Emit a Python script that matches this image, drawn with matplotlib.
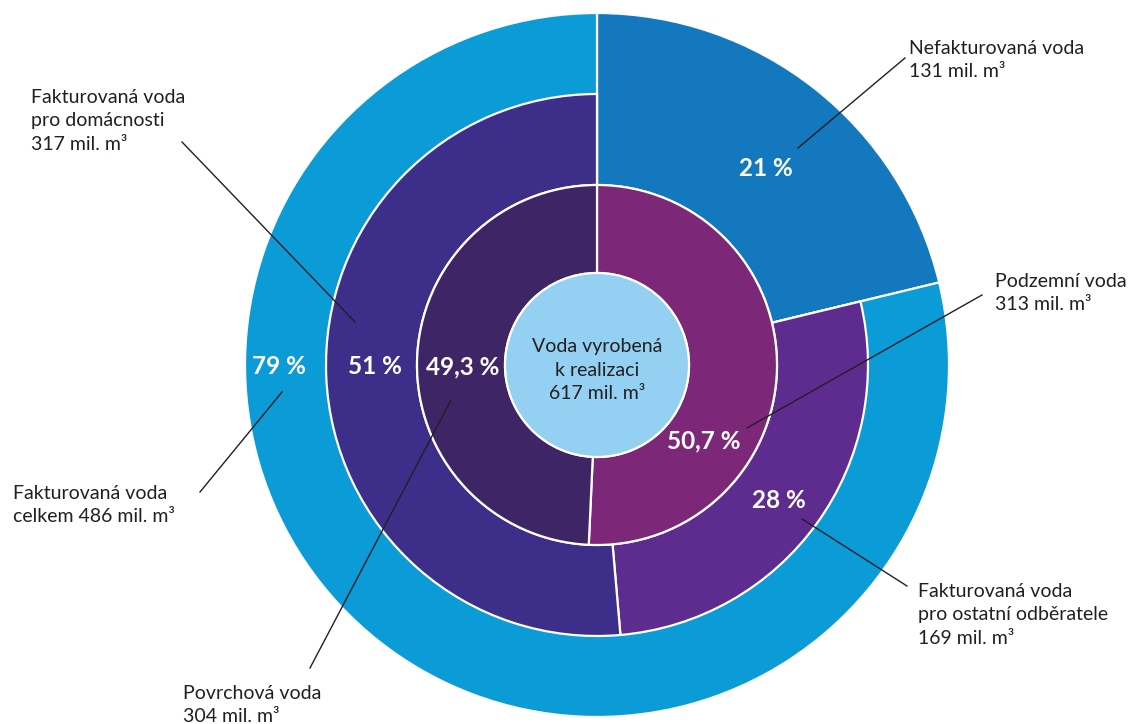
import matplotlib
matplotlib.use("Agg")
import matplotlib.pyplot as plt

# ---- data ----
total_label = "Voda vyrobená\nk realizaci\n617 mil. m³"
inner_names = ["Podzemní voda", "Povrchová voda"]
inner_values = [313, 304]
inner_pct = ["50,7 %", "49,3 %"]

middle_names = ["Nefakturovaná voda", "Fakturovaná voda pro ostatní odběratele",
                "Fakturovaná voda pro domácnosti"]
middle_values = [131, 169, 317]
middle_pct = ["21 %", "28 %", "51 %"]

outer_names = ["Nefakturovaná voda", "Fakturovaná voda celkem"]
outer_values = [131, 486]
outer_pct = ["21 %", "79 %"]

# ---- styles ----
C_OUT_LIGHT = "#0b9bd7"
C_DARK_BLUE = "#1378bd"
C_28 = "#5e2c8f"
C_51 = "#3d2e8a"
C_POD = "#7c2778"
C_POV = "#3e2566"
C_CENTER = "#94d0f1"
TXT = "#231f20"

W, H = 1130, 724
fig = plt.figure(figsize=(W / 100, H / 100), dpi=100)
ax = fig.add_axes([0, 0, 1, 1])

cx, cy = 597, H - 365
R_out, R_mid, R_in, R_c = 352, 271, 180, 92
lw = 1.6

def py(y):
    return H - y

FONT = ["Lato", "DejaVu Sans"]
plt.rcParams["font.family"] = FONT

# outer ring (dark blue wedge spans from inner-ring edge to outer edge)
w_out, _ = ax.pie(outer_values, radius=R_out, center=(cx, cy), startangle=90,
                  counterclock=False, colors=[C_DARK_BLUE, C_OUT_LIGHT],
                  wedgeprops=dict(width=R_out - R_in, edgecolor="white", linewidth=lw))
# middle ring
w_mid, _ = ax.pie(middle_values, radius=R_mid, center=(cx, cy), startangle=90,
                  counterclock=False, colors=["none", C_28, C_51],
                  wedgeprops=dict(width=R_mid - R_in, edgecolor="white", linewidth=lw))
w_mid[0].set_visible(False)
# inner ring
w_in, _ = ax.pie(inner_values, radius=R_in, center=(cx, cy), startangle=90,
                 counterclock=False, colors=[C_POD, C_POV],
                 wedgeprops=dict(width=R_in - R_c, edgecolor="white", linewidth=lw))
# center circle
ax.add_patch(plt.Circle((cx, cy), R_c, facecolor=C_CENTER, edgecolor="white", linewidth=lw, zorder=5))

ax.set_xlim(0, W)
ax.set_ylim(0, H)
ax.set_aspect("equal")
ax.axis("off")

# center text
ax.text(cx, py(370), total_label, ha="center", va="center", fontsize=14,
        color=TXT, linespacing=1.45, zorder=6)

# percent labels
pct_kw = dict(ha="center", va="center", fontsize=17.5, fontweight="bold", color="white", zorder=6)
ax.text(279, py(367), outer_pct[1], **pct_kw)
ax.text(766, py(168), outer_pct[0], **pct_kw)
ax.text(375, py(367), middle_pct[2], **pct_kw)
ax.text(779, py(500), middle_pct[1], **pct_kw)
ax.text(463, py(367), inner_pct[1], **pct_kw)
ax.text(704, py(441), inner_pct[0], **pct_kw)

# side labels
lab_kw = dict(ha="left", va="top", fontsize=14, color=TXT, linespacing=1.45)
ax.text(909, py(40), "Nefakturovaná voda\n131 mil. m³", **lab_kw)
ax.text(31, py(89), "Fakturovaná voda\npro domácnosti\n317 mil. m³", **lab_kw)
ax.text(995, py(273), "Podzemní voda\n313 mil. m³", **lab_kw)
ax.text(13, py(485), "Fakturovaná voda\ncelkem 486 mil. m³", **lab_kw)
ax.text(918, py(583), "Fakturovaná voda\npro ostatní odběratele\n169 mil. m³", **lab_kw)
ax.text(183, py(685), "Povrchová voda\n304 mil. m³", **lab_kw)

# leader lines
leaders = [((798, 148), (905, 58)),
           ((355, 322), (182, 142)),
           ((747, 428), (982, 295)),
           ((282, 392), (200, 492)),
           ((802, 519), (907, 586)),
           ((451, 400), (310, 668))]
for (x1, y1), (x2, y2) in leaders:
    ax.plot([x1, x2], [py(y1), py(y2)], color=TXT, linewidth=1.0, zorder=7)

fig.savefig("out.png", dpi=100)
